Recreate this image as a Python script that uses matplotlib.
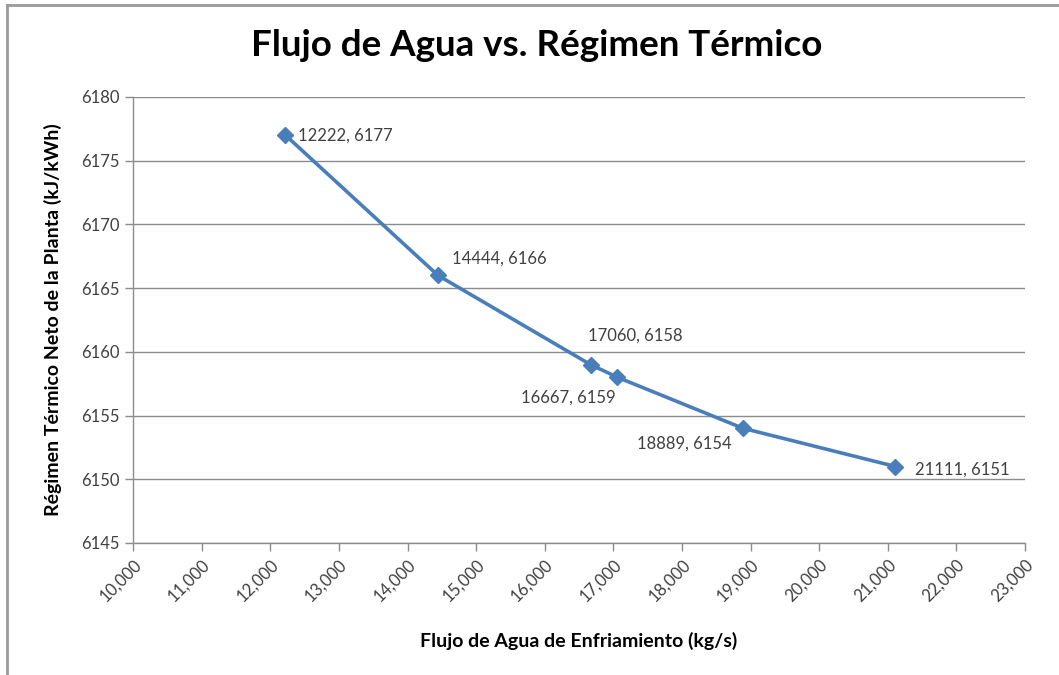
import matplotlib
matplotlib.use("Agg")
import matplotlib.pyplot as plt
from matplotlib.lines import Line2D
from matplotlib.ticker import FuncFormatter, MultipleLocator

# Cooling water flow vs. net plant heat rate
flujo = [12222, 14444, 16667, 17060, 18889, 21111]
regimen = [6177, 6166, 6159, 6158, 6154, 6151]
# label offsets in pixels (dx, dy) and horizontal alignment
label_pos = [(13, 0, "left"), (14, 17, "left"), (25, -33, "right"),
             (-29, 42, "left"), (-11, -15, "right"), (20, -3, "left")]

titulo = "Flujo de Agua vs. Régimen Térmico"
etiqueta_x = "Flujo de Agua de Enfriamiento (kg/s)"
etiqueta_y = "Régimen Térmico Neto de la Planta (kJ/kWh)"

plt.rcParams["font.family"] = ["Lato", "DejaVu Sans"]

fig = plt.figure(figsize=(10.59, 6.75), dpi=100)
fig.patch.set_facecolor("white")
ax = fig.add_axes([0.1256, 0.1956, 0.968 - 0.1256, 0.8563 - 0.1956])

azul = "#4a7ebb"
ax.plot(flujo, regimen, color=azul, lw=2.6, marker="D", ms=8,
        mfc=azul, mec=azul, zorder=3, solid_capstyle="round")

for xv, yv, (dx, dy, ha) in zip(flujo, regimen, label_pos):
    ax.annotate(f"{xv}, {yv}", (xv, yv), xytext=(dx, dy),
                textcoords="offset pixels", ha=ha, va="center",
                fontsize=12, color="#404040")

ax.set_xlim(10000, 23000)
ax.set_ylim(6145, 6180)
ax.xaxis.set_major_locator(MultipleLocator(1000))
ax.yaxis.set_major_locator(MultipleLocator(5))
ax.xaxis.set_major_formatter(FuncFormatter(lambda v, p: f"{int(v):,}"))
ax.grid(axis="y", color="#8c8c8c", lw=1)
ax.set_axisbelow(True)
for s in ("top", "right"):
    ax.spines[s].set_visible(False)
for s in ("left", "bottom"):
    ax.spines[s].set_color("#8c8c8c")
    ax.spines[s].set_linewidth(1)
ax.tick_params(axis="both", colors="#8c8c8c", length=6, width=1,
               labelcolor="#404040", labelsize=12)
plt.setp(ax.get_xticklabels(), rotation=45, ha="right", rotation_mode="anchor")

fig.text(0.507, 0.933, titulo, ha="center", va="center",
         fontsize=26.5, fontweight="bold", color="black")
ax.set_xlabel(etiqueta_x, fontsize=14, fontweight="bold", labelpad=20)
ax.set_ylabel(etiqueta_y, fontsize=14, fontweight="bold", labelpad=14)

# outer frame (left and top edges)
fig.add_artist(Line2D([7 / 1059, 7 / 1059], [0, 1 - 5 / 675],
                      transform=fig.transFigure, color="#9a9a9a", lw=2))
fig.add_artist(Line2D([7 / 1059, 1], [1 - 5 / 675, 1 - 5 / 675],
                      transform=fig.transFigure, color="#9a9a9a", lw=2))

fig.savefig("out.png", dpi=100)
